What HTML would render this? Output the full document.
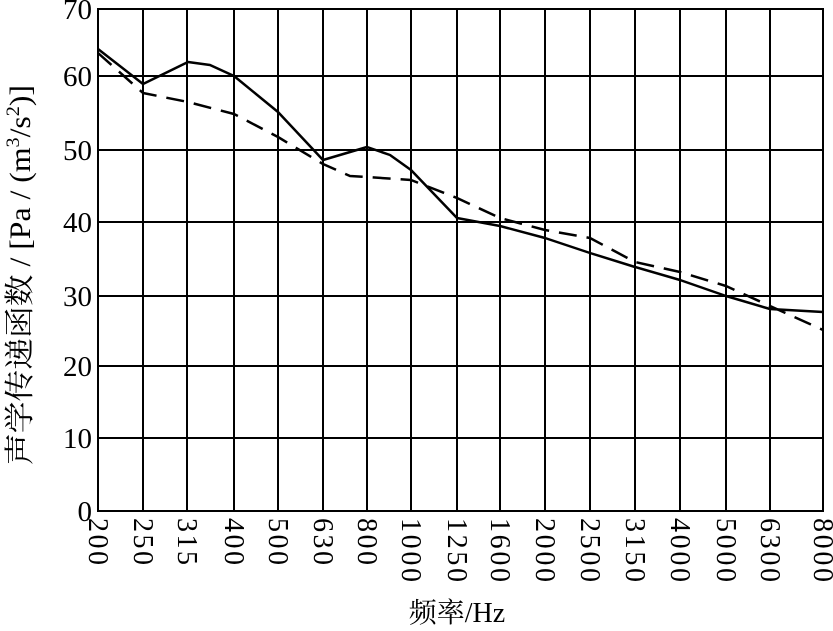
<!DOCTYPE html><html><head><style>body{margin:0;background:#fff}svg{display:block}</style></head><body>
<svg width="833" height="631" xmlns="http://www.w3.org/2000/svg" font-family="Liberation Serif, Noto Serif CJK SC, serif">
<rect width="833" height="631" fill="#fff"/>
<g stroke="#000" stroke-width="2" fill="none">
<rect x="98" y="9" width="725" height="502"/>
<path d="M98 76H823M98 150H823M98 222H823M98 296H823M98 366H823M98 438H823"/>
<path d="M143 9V511M187 9V511M234 9V511M278 9V511M323 9V511M367 9V511M411 9V511M457 9V511M500 9V511M545 9V511M590 9V511M635 9V511M680 9V511M726 9V511M770 9V511"/>
</g>
<g fill="none" stroke="#000" stroke-width="2.5" stroke-linejoin="round">
<polyline points="98,49 143,84 188,62 210,65 234,76 278,112 323,160 367,147 390,155 411,170 457,218 500,226 545,238 590,253 635,267 680,280 726,296 770,309 823,312"/>
<polyline stroke-dasharray="18,10" points="98,53 143,93 188,102 234,114 278,137 323,164 350,176 367,177 411,180 457,198 500,218 545,230 590,238 635,262 680,272 726,286 770,306 823,330"/>
</g>
<g font-size="29" text-anchor="end">
<text x="92" y="19">70</text><text x="92" y="86">60</text><text x="92" y="160">50</text><text x="92" y="232">40</text><text x="92" y="306">30</text><text x="92" y="376">20</text><text x="92" y="448">10</text><text x="92" y="521">0</text>
</g>
<g font-size="28" lengthAdjust="spacingAndGlyphs">
<text transform="translate(89,518) rotate(90)" textLength="47">200</text>
<text transform="translate(134,518) rotate(90)" textLength="47">250</text>
<text transform="translate(178,518) rotate(90)" textLength="47">315</text>
<text transform="translate(225,518) rotate(90)" textLength="47">400</text>
<text transform="translate(269,518) rotate(90)" textLength="47">500</text>
<text transform="translate(314,518) rotate(90)" textLength="47">630</text>
<text transform="translate(358,518) rotate(90)" textLength="47">800</text>
<text transform="translate(402,518) rotate(90)" textLength="64">1000</text>
<text transform="translate(448,518) rotate(90)" textLength="64">1250</text>
<text transform="translate(491,518) rotate(90)" textLength="64">1600</text>
<text transform="translate(536,518) rotate(90)" textLength="64">2000</text>
<text transform="translate(581,518) rotate(90)" textLength="64">2500</text>
<text transform="translate(626,518) rotate(90)" textLength="64">3150</text>
<text transform="translate(671,518) rotate(90)" textLength="64">4000</text>
<text transform="translate(717,518) rotate(90)" textLength="64">5000</text>
<text transform="translate(761,518) rotate(90)" textLength="64">6300</text>
<text transform="translate(814,518) rotate(90)" textLength="64">8000</text>
</g>
<text x="457" y="622" font-size="28" text-anchor="middle">频率/Hz</text>
<text transform="translate(30,275) rotate(-90)" font-size="30" text-anchor="middle" textLength="380" lengthAdjust="spacingAndGlyphs">声学传递函数 / [Pa / (m<tspan font-size="19" dy="-11">3</tspan><tspan dy="11">/s</tspan><tspan font-size="19" dy="-11">2</tspan><tspan dy="11">)]</tspan></text>
</svg>
</body></html>
